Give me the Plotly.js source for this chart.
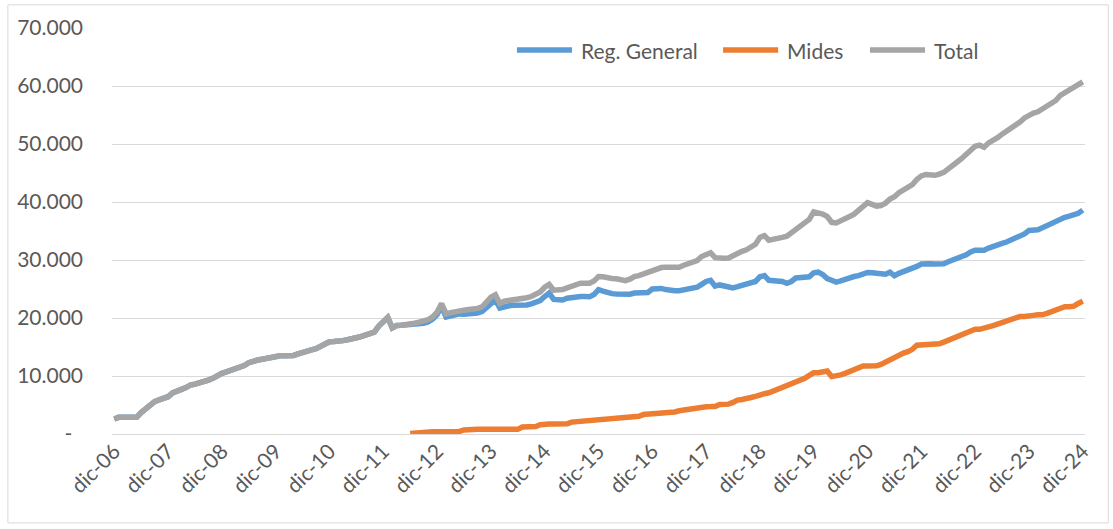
<!DOCTYPE html>
<html>
<head>
<meta charset="utf-8">
<script src="https://cdn.plot.ly/plotly-3.0.1.min.js"></script>
<style>
  html, body { margin: 0; padding: 0; background: #ffffff; }
  #chart { width: 1113px; height: 529px; }
</style>
</head>
<body>
<div id="chart"></div>
<script>
// monthly series, first point = dic-06
const tickLabels = ["dic-06", "dic-07", "dic-08", "dic-09", "dic-10", "dic-11", "dic-12",
  "dic-13", "dic-14", "dic-15", "dic-16", "dic-17", "dic-18", "dic-19", "dic-20",
  "dic-21", "dic-22", "dic-23", "dic-24"];

const yTickVals = [0, 10000, 20000, 30000, 40000, 50000, 60000, 70000];
const yTickText = ["-\u00a0\u00a0", "10.000", "20.000", "30.000", "40.000", "50.000", "60.000", "70.000"];

const seriesNames = ["Reg. General", "Mides", "Total"];
const seriesColors = ["#5B9BD5", "#ED7D31", "#A5A5A5"];

const total = [
  2590,
  2870, 2870, 2870, 2870, 2870, 3700, 4400, 5000, 5570, 5900, 6200, 6430,
  7100, 7500, 7700, 8000, 8450, 8600, 8800, 8900, 9300, 9600, 10100, 10460,
  10700, 10950, 11300, 11600, 11800, 12300, 12600, 12750, 12900, 13100, 13300, 13400,
  13500, 13500, 13500, 13550, 13800, 14100, 14300, 14500, 14700, 15050, 15400, 15900,
  15950, 15950, 16100, 16250, 16350, 16600, 16800, 17050, 17300, 17550, 18600, 19300,
  20100, 18300, 18700, 18750, 18800, 18850, 19100, 19300, 19500, 19700, 20200, 21000,
  22500, 20700, 20900, 21100, 21200, 21350, 21450, 21500, 21650, 21900, 22700, 23600,
  24000, 22500, 22900, 23000, 23050, 23100, 23300, 23500, 23700, 24100, 24500, 25300,
  25800, 24800, 24800, 24900, 25200, 25500, 25750, 26000, 26000, 26000, 26400, 27150,
  27100, 26900, 26800, 26750, 26700, 26450, 26700, 27150, 27300, 27600, 27900, 28300,
  28500, 28700, 28750, 28750, 28750, 28750, 29100, 29450, 29600, 29900, 30600, 31000,
  31250, 30400, 30300, 30300, 30350, 30800, 31200, 31500, 31750, 32100, 32700, 33900,
  34200, 33400, 33500, 33750, 33900, 34100, 34700, 35400, 35800, 36300, 37000, 38300,
  38200, 37900, 37500, 36500, 36400, 36700, 37050, 37500, 37900, 38500, 39300, 39900,
  39600, 39300, 39400, 39800, 40500, 40900, 41600, 42100, 42500, 43000, 43900, 44500,
  44750, 44650, 44600, 44800, 45100, 45700, 46200, 46900, 47500, 48300, 49000, 49600,
  49800, 49450, 50200, 50600, 51100, 51700, 52200, 52700, 53100, 53800, 54500, 55000,
  55350, 55550, 56000, 56700, 57100, 57500, 58400, 58900, 59200, 59900, 60300, 60700
];

const regGeneral = [
  2590,
  2870, 2870, 2870, 2870, 2870, 3700, 4400, 5000, 5570, 5900, 6200, 6430,
  7100, 7500, 7700, 8000, 8450, 8600, 8800, 8900, 9300, 9600, 10100, 10460,
  10700, 10950, 11300, 11600, 11800, 12300, 12600, 12750, 12900, 13100, 13300, 13400,
  13500, 13500, 13500, 13550, 13800, 14100, 14300, 14500, 14700, 15050, 15400, 15900,
  15950, 15950, 16100, 16250, 16350, 16600, 16800, 17050, 17300, 17550, 18600, 19300,
  20100, 18300, 18700, 18750, 18800, 18750, 18900, 19000, 19100, 19300, 19800, 20600,
  22000, 20150, 20350, 20600, 20700, 20650, 20650, 20700, 20850, 21100, 21800, 22700,
  23100, 21700, 22000, 22100, 22200, 22250, 22100, 22250, 22450, 22800, 23000, 23700,
  24300, 23200, 23100, 23100, 23400, 23550, 23650, 23700, 23700, 23650, 24050, 24900,
  24650, 24350, 24200, 24150, 24100, 23950, 24100, 24300, 24300, 24350, 24400, 25000,
  25100, 25100, 24900, 24750, 24700, 24700, 24800, 25100, 25200, 25300, 25800, 26300,
  26500, 25500, 25700, 25600, 25400, 25200, 25400, 25600, 25750, 25900, 26300, 27100,
  27300, 26500, 26500, 26500, 26300, 26000, 26300, 26900, 27000, 27000, 27100, 27800,
  27900, 27500, 26800, 26500, 26200, 26400, 26700, 26900, 27150, 27300, 27600, 27850,
  27800, 27650, 27550, 27550, 27900, 27300, 27700, 27950, 28300, 28550, 28900, 29300,
  29400, 29350, 29300, 29300, 29350, 29700, 29950, 30200, 30450, 30900, 31400, 31700,
  31700, 31700, 32050, 32250, 32500, 32850, 33100, 33450, 33800, 34100, 34500, 35100,
  35150, 35200, 35550, 35950, 36300, 36600, 36950, 37350, 37550, 37800, 38050, 38600
];

// Mides starts in jun-12 (month 66)
const midesStart = 66;
const mides = [
  100, 200, 300, 400, 400, 400, 400,
  400, 400, 400, 400, 450, 700, 800, 800, 800, 800, 800, 800,
  800, 800, 800, 800, 800, 800, 1200, 1260, 1260, 1300, 1600, 1720,
  1720, 1720, 1720, 1720, 1750, 2050, 2120, 2150, 2300, 2400, 2410, 2420,
  2450, 2600, 2700, 2700, 2700, 2900, 3000, 3000, 3050, 3350, 3400, 3400,
  3450, 3700, 3750, 3750, 3800, 4000, 4150, 4300, 4430, 4550, 4700, 4710,
  4720, 4750, 5100, 5120, 5150, 5450, 5850, 5950, 6050, 6300, 6500, 6800,
  6950, 7100, 7400, 7700, 7850, 8150, 8500, 8950, 9250, 9600, 10100, 10550,
  10570, 10650, 10850, 9900, 10000, 10200, 10450, 10750, 11050, 11400, 11720, 11720,
  11720, 11750, 12000, 12400, 12850, 13300, 13650, 13950, 14200, 14600, 15300, 15350,
  15350, 15550, 15520, 15550, 15850, 16200, 16500, 16750, 17050, 17400, 17900, 18050,
  18050, 18200, 18450, 18700, 18950, 19250, 19450, 19800, 20050, 20250, 20250, 20250,
  20450, 20550, 20550, 20800, 21050, 21300, 21500, 21950, 21950, 22050, 22500, 22900
];

const textColor = "#595959";
const font = "Lato, 'Liberation Sans', sans-serif";

const traces = [
  {
    name: seriesNames[0],
    y: regGeneral, x0: 0, dx: 1,
    type: "scatter", mode: "lines",
    line: { color: seriesColors[0], width: 5.5 }
  },
  {
    name: seriesNames[1],
    y: mides, x0: midesStart, dx: 1,
    type: "scatter", mode: "lines",
    line: { color: seriesColors[1], width: 5.5 }
  },
  {
    name: seriesNames[2],
    y: total, x0: 0, dx: 1,
    type: "scatter", mode: "lines",
    line: { color: seriesColors[2], width: 5.5 }
  }
];

// legend drawn by hand so the sample lines are as long as Excel's
const legendX = [0.4162, 0.6280, 0.7790];
const legendY = 0.9458;
const legendShapes = seriesNames.map((n, k) => ({
  type: "line", xref: "paper", yref: "paper",
  x0: legendX[k], x1: legendX[k] + 0.0566, y0: legendY, y1: legendY,
  line: { color: seriesColors[k], width: 5.5 }
}));
const legendText = seriesNames.map((n, k) => ({
  text: n, xref: "paper", yref: "paper",
  x: legendX[k] + 0.064, y: legendY,
  xanchor: "left", yanchor: "middle", showarrow: false,
  font: { family: font, size: 21, color: textColor }
}));

const layout = {
  width: 1113,
  height: 529,
  margin: { l: 112, r: 28, t: 28, b: 95 },
  paper_bgcolor: "white",
  plot_bgcolor: "white",
  font: { family: font, size: 20, color: textColor },
  showlegend: false,
  xaxis: {
    range: [-0.5, 216.5],
    tickvals: tickLabels.map((_, i) => i * 12),
    ticktext: tickLabels,
    tickangle: -45,
    showgrid: false,
    zeroline: false,
    showline: false,
    ticks: "",
    tickfont: { family: font, size: 21, color: textColor }
  },
  yaxis: {
    range: [0, 70000],
    tickvals: yTickVals,
    ticktext: yTickText,
    showgrid: true,
    gridcolor: "#D9D9D9",
    gridwidth: 1,
    zeroline: true,
    zerolinecolor: "#D9D9D9",
    zerolinewidth: 1,
    showline: false,
    ticks: "",
    ticklabelstandoff: 28,
    tickfont: { family: font, size: 21, color: textColor }
  },
  annotations: legendText,
  shapes: [
    {
      type: "rect", xref: "paper", yref: "paper",
      x0: -0.107, x1: 1.024, y0: -0.219, y1: 1.057,
      line: { color: "#D9D9D9", width: 1 },
      fillcolor: "rgba(0,0,0,0)"
    }
  ].concat(legendShapes)
};

Plotly.newPlot("chart", traces, layout, { displayModeBar: false, staticPlot: true });
</script>
</body>
</html>
